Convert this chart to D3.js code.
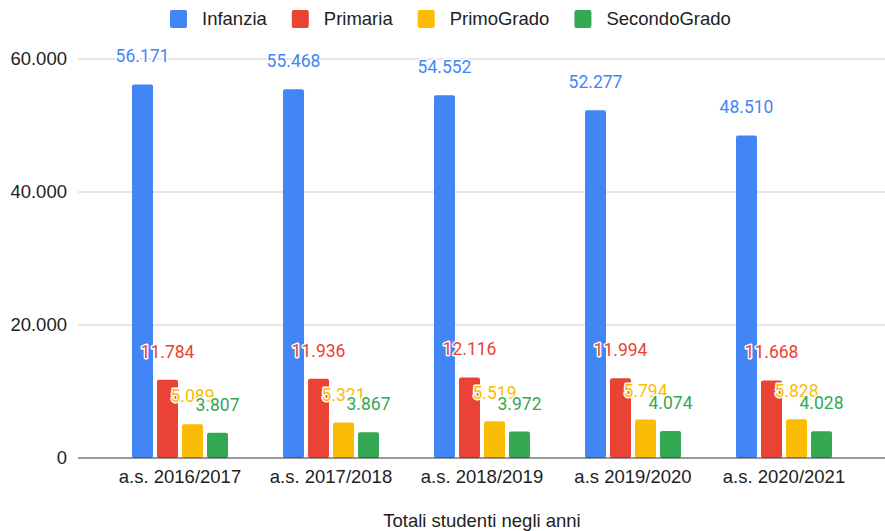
<!DOCTYPE html>
<html>
<head>
<meta charset="utf-8">
<script src="https://cdn.jsdelivr.net/npm/d3@7"></script>
<style>
    body { margin: 0; background: #fff; }
    svg { display: block; }
    .tick-label { font-family: "Liberation Sans", Arial, sans-serif; font-size: 18.5px; fill: #222; }
    .data-label { font-family: Roboto, sans-serif; font-size: 17.5px; stroke: #fff; stroke-width: 3px; paint-order: stroke; stroke-linejoin: round; }
</style>
</head>
<body>
<div id="container"></div>
<script>
const years = ["a.s. 2016/2017", "a.s. 2017/2018", "a.s. 2018/2019", "a.s 2019/2020", "a.s. 2020/2021"];
const series = ["Infanzia", "Primaria", "PrimoGrado", "SecondoGrado"];
const colors = ["#4285f4", "#ea4335", "#fbbc04", "#34a853"];
const infanzia = [56171, 55468, 54552, 52277, 48510];
const primaria = [11784, 11936, 12116, 11994, 11668];
const primoGrado = [5089, 5321, 5519, 5794, 5828];
const secondoGrado = [3807, 3867, 3972, 4074, 4028];
const yTicks = [0, 20000, 40000, 60000];
const title = "Totali studenti negli anni";

const values = [infanzia, primaria, primoGrado, secondoGrado];
const width = 885, height = 531;

const svg = d3.select("#container").append("svg")
    .attr("width", width)
    .attr("height", height);

// scales
const x0 = d3.scaleBand().domain(years).range([104.5, 859.5]);
const x1 = d3.scaleBand().domain(series).range([-48, 48]).paddingInner(0.16);
const y = d3.scaleLinear().domain([0, 60000]).range([458, 59]);
const color = d3.scaleOrdinal().domain(series).range(colors);

const fmt = d3.formatLocale({ decimal: ",", thousands: ".", grouping: [3], currency: ["", "€"] }).format(",d");

// gridlines
svg.append("g")
    .selectAll("line")
    .data(yTicks.filter(t => t > 0))
    .join("line")
    .attr("x1", 78).attr("x2", width)
    .attr("y1", d => y(d)).attr("y2", d => y(d))
    .attr("stroke", "#cccccc").attr("stroke-width", 1);

// y labels
svg.append("g")
    .selectAll("text")
    .data(yTicks)
    .join("text")
    .attr("class", "tick-label")
    .attr("x", 67)
    .attr("y", d => y(d))
    .attr("dy", "0.35em")
    .attr("text-anchor", "end")
    .text(d => fmt(d));

// bars
const rows = [];
years.forEach((yr, i) => series.forEach((s, j) => rows.push({ yr, s, v: values[j][i] })));

const bars = svg.append("g");
bars.selectAll("rect")
    .data(rows)
    .join("rect")
    .attr("x", d => x0(d.yr) + x0.bandwidth() / 2 + x1(d.s))
    .attr("width", x1.bandwidth())
    .attr("y", d => y(d.v))
    .attr("height", d => y(0) - y(d.v))
    .attr("rx", 2)
    .attr("fill", d => color(d.s));

// baseline
svg.append("line")
    .attr("x1", 78).attr("x2", width)
    .attr("y1", y(0)).attr("y2", y(0))
    .attr("stroke", "#333").attr("stroke-width", 1.2);

// data labels
svg.append("g")
    .selectAll("text")
    .data(rows)
    .join("text")
    .attr("class", "data-label")
    .attr("x", d => x0(d.yr) + x0.bandwidth() / 2 + x1(d.s) + x1.bandwidth() / 2)
    .attr("y", d => y(d.v) - 22)
    .attr("text-anchor", "middle")
    .attr("fill", d => color(d.s))
    .text(d => fmt(d.v));

// x labels
svg.append("g")
    .selectAll("text")
    .data(years)
    .join("text")
    .attr("class", "tick-label")
    .attr("x", d => x0(d) + x0.bandwidth() / 2)
    .attr("y", 483)
    .attr("text-anchor", "middle")
    .text(d => d);

// title
svg.append("text")
    .attr("class", "tick-label")
    .attr("x", 482)
    .attr("y", 527)
    .attr("text-anchor", "middle")
    .text(title);

// legend
const legend = svg.append("g");
let lx = 170;
series.forEach((s, i) => {
    legend.append("rect")
        .attr("x", lx).attr("y", 10)
        .attr("width", 17).attr("height", 18)
        .attr("rx", 2)
        .attr("fill", colors[i]);
    const t = legend.append("text")
        .attr("class", "tick-label")
        .attr("x", lx + 32).attr("y", 19)
        .attr("dy", "0.35em")
        .text(s);
    lx += 32 + t.node().getComputedTextLength() + 25;
});
</script>
</body>
</html>
